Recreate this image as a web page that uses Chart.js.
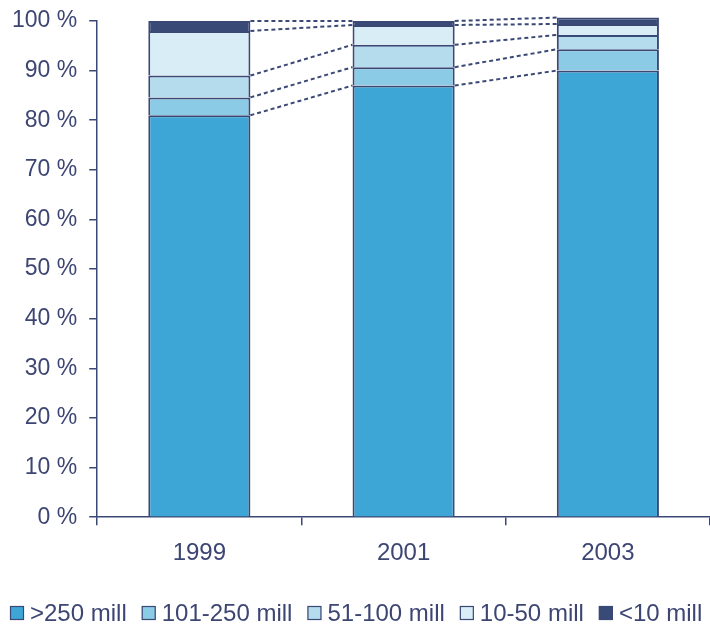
<!DOCTYPE html>
<html>
<head>
<meta charset="utf-8">
<script src="https://cdn.jsdelivr.net/npm/chart.js@4/dist/chart.umd.min.js"></script>
<style>
  html, body { margin: 0; padding: 0; background: #fff; }
  #wrap { width: 710px; height: 631px; }
</style>
</head>
<body>
<div id="wrap"><canvas id="shareChart"></canvas></div>
<script>
const years = ["1999", "2001", "2003"];
const over250 = [81, 87, 90];
const mid101to250 = [3.6, 3.7, 4.3];
const mid51to100 = [4.4, 4.5, 2.9];
const small10to50 = [9, 4.0, 2.2];
const under10 = [2, 0.8, 1.3];
const yTicks = [0, 10, 20, 30, 40, 50, 60, 70, 80, 90, 100];

const navy = "#3a4876";
const textColor = "#3d4673";
const fontFamily = "Liberation Sans";

// dotted lines joining the top of each segment to the same segment in the next bar
const connectors = {
  id: "connectors",
  afterDatasetsDraw(chart) {
    const ctx = chart.ctx;
    ctx.save();
    ctx.strokeStyle = navy;
    ctx.lineWidth = 2;
    ctx.setLineDash([4, 3]);
    chart.data.datasets.forEach((ds, d) => {
      const bars = chart.getDatasetMeta(d).data;
      for (let i = 0; i < bars.length - 1; i++) {
        const a = bars[i], b = bars[i + 1];
        ctx.beginPath();
        ctx.moveTo(a.x + a.width / 2, a.y);
        ctx.lineTo(b.x - b.width / 2, b.y);
        ctx.stroke();
      }
    });
    ctx.restore();
  }
};

// single-row legend under the axis (the built-in one wraps at this size)
const rowLegend = {
  id: "rowLegend",
  afterDraw(chart) {
    const ctx = chart.ctx;
    const y = 613;
    let x = 10;
    ctx.save();
    ctx.font = "24px " + fontFamily;
    ctx.textBaseline = "middle";
    chart.data.datasets.forEach(ds => {
      ctx.fillStyle = ds.backgroundColor;
      ctx.fillRect(x, y - 7, 14, 14);
      ctx.strokeStyle = navy;
      ctx.lineWidth = 1.2;
      ctx.strokeRect(x + 0.5, y - 6.5, 13, 13);
      x += 20;
      ctx.fillStyle = textColor;
      ctx.fillText(ds.label, x, y + 1);
      x += ctx.measureText(ds.label).width + 15;
    });
    ctx.restore();
  }
};

const ctx = document.getElementById("shareChart").getContext("2d");
const chart = new Chart(ctx, {
  type: "bar",
  data: {
    labels: years,
    datasets: [
      { label: ">250 mill", data: over250, backgroundColor: "#3ea6d6" },
      { label: "101-250 mill", data: mid101to250, backgroundColor: "#8bcbe6" },
      { label: "51-100 mill", data: mid51to100, backgroundColor: "#b4dced" },
      { label: "10-50 mill", data: small10to50, backgroundColor: "#d8edf6" },
      { label: "<10 mill", data: under10, backgroundColor: "#394a76" }
    ].map(ds => Object.assign(ds, {
      borderColor: navy,
      borderWidth: 2,
      barPercentage: 0.5,
      categoryPercentage: 1,
      clip: false
    }))
  },
  options: {
    responsive: true,
    maintainAspectRatio: false,
    animation: false,
    layout: { padding: { left: 0, right: 0, top: 21, bottom: 49 } },
    scales: {
      x: {
        stacked: true,
        grid: { drawOnChartArea: false, drawTicks: true, tickLength: 8, color: navy, lineWidth: 1.5 },
        border: { color: navy, width: 1.5 },
        ticks: { color: textColor, font: { family: fontFamily, size: 24 }, padding: 14 }
      },
      y: {
        stacked: true,
        min: 0,
        max: 100,
        afterBuildTicks(axis) { axis.ticks = yTicks.map(v => ({ value: v })); },
        afterFit(axis) { axis.paddingTop = 0; },
        grid: { drawOnChartArea: false, drawTicks: true, tickLength: 8, color: navy, lineWidth: 1.5 },
        border: { color: navy, width: 1.5 },
        ticks: {
          color: textColor,
          font: { family: fontFamily, size: 23 },
          padding: 12,
          callback: v => v + " %"
        }
      }
    },
    plugins: {
      legend: { display: false },
      tooltip: { enabled: false }
    }
  },
  plugins: [connectors, rowLegend]
});
</script>
</body>
</html>
